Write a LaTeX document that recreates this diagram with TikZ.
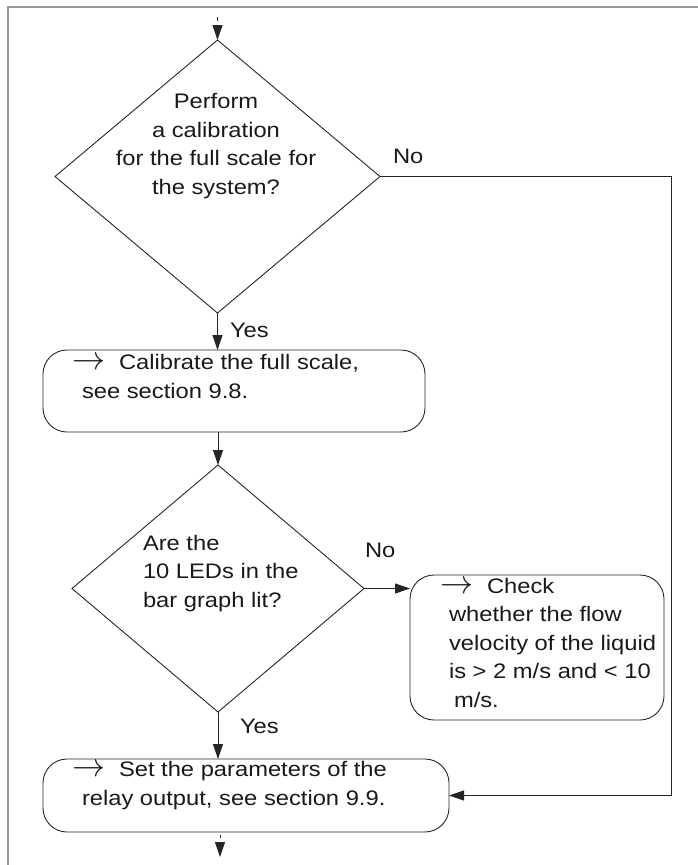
\documentclass[tikz,border=0pt]{standalone}
\usepackage{fontspec}
\setmainfont{Liberation Sans}[FakeStretch=1.13]
\usetikzlibrary{shapes.geometric,arrows.meta}
\newcommand{\myarr}{\resizebox{33pt}{!}{$\rightarrow$}}
\begin{document}
\begin{tikzpicture}[x=1pt,y=-1pt,
  every node/.style={inner sep=0pt,outer sep=0pt},
  txt/.style={font=\fontsize{21}{28.5}\selectfont,text=black!90,anchor=base west,align=left},
  ctxt/.style={font=\fontsize{21}{28.5}\selectfont,text=black!90,anchor=base,align=center},
  dec/.style={draw=black!85,line width=0.9pt,shape=diamond,aspect=1},
  proc/.style={draw=black!85,line width=0.9pt,rectangle,rounded corners=24pt},
  conn/.style={draw=black!85,line width=0.9pt,-{Triangle[length=15pt,width=10pt]}},
  frame/.style={draw=black!40,line width=1.5pt}]
\useasboundingbox (0,0) rectangle (698,865);
\draw[frame] (8,865) -- (8,7) -- (698,7);

% shapes
\node[dec,minimum width=325pt,minimum height=273pt] (d1) at (217.5,176.5) {};
\node[proc,minimum width=382pt,minimum height=82pt] (b1) at (234,391) {};
\node[dec,minimum width=292pt,minimum height=247pt] (d2) at (218,588.5) {};
\node[proc,minimum width=254pt,minimum height=145pt] (b2) at (537,647.5) {};
\node[proc,minimum width=406pt,minimum height=73pt] (b3) at (246,795.5) {};

% texts (anchored at the baseline of the last line)
\node[ctxt] (t1) at (216,194) {Perform\\a calibration\\for the full scale for\\the system?};
\node[txt] (t2) at (82,398) {\makebox[0pt][l]{\hspace*{-10pt}\myarr}\hspace*{37pt}Calibrate the full scale,\\see section 9.8.};
\node[txt] (t3) at (143,607) {Are the\\10 LEDs in the\\bar graph lit?};
\node[txt] (t4) at (449,707) {\makebox[0pt][l]{\hspace*{-9pt}\myarr}\hspace*{38pt}Check\\whether the flow\\velocity of the liquid\\is {>} 2 m/s and {<} 10\\\hspace*{5pt}m/s.};
\node[txt] (t5) at (82,805) {\makebox[0pt][l]{\hspace*{-10pt}\myarr}\hspace*{37pt}Set the parameters of the\\relay output, see section 9.9.};

% labels
\node[txt] (no1) at (393,163) {No};
\node[txt] (yes1) at (230,337) {Yes};
\node[txt] (no2) at (365,557) {No};
\node[txt] (yes2) at (240,733) {Yes};

% connectors
\coordinate (s0) at (217.5,17);
\coordinate (e0) at (220,857);
\coordinate (e1) at (220,835);
\draw[conn,dash pattern=on 4pt off 40pt] (s0) -- (d1.north);
\draw[conn] (d1.south) -- (d1.south |- b1.north);
\draw[conn] (b1.south -| d2.north) -- (d2.north);
\draw[conn] (d2.east) -- (d2.east -| b2.west);
\draw[conn] (d2.south) -- (d2.south |- b3.north);
\draw[conn] (d1.east) -- ++(291,0) |- (b3.east);
\draw[conn,dash pattern=on 3pt off 40pt] (e1) -- (e0);
\end{tikzpicture}
\end{document}
